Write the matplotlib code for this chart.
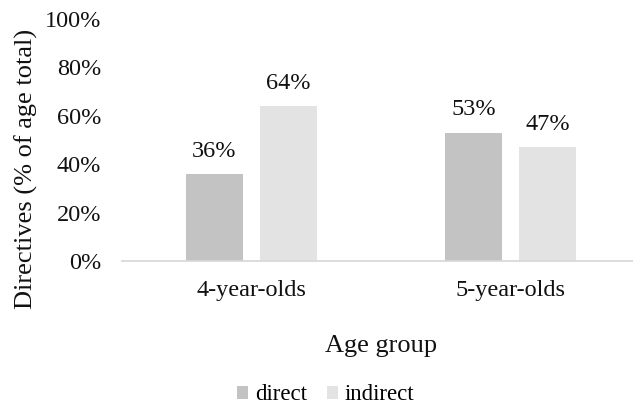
import matplotlib
matplotlib.use("Agg")
import matplotlib.pyplot as plt
import numpy as np

categories = ["4-year-olds", "5-year-olds"]
series_names = ["direct", "indirect"]
direct = [0.36, 0.53]
indirect = [0.64, 0.47]
yticks = [0, 0.2, 0.4, 0.6, 0.8, 1.0]
ytick_labels = ["0%", "20%", "40%", "60%", "80%", "100%"]

colors = ["#C3C3C3", "#E3E3E3"]
plt.rcParams['font.family'] = ['Liberation Serif', 'DejaVu Serif']
TXT = "#111111"

W, H = 633, 407
fig = plt.figure(figsize=(W / 100, H / 100), dpi=100)
ax_left, ax_right, ax_bottom, ax_top = 122, 640, 261, 19
ax = fig.add_axes([ax_left / W, 1 - ax_bottom / H, (ax_right - ax_left) / W, (ax_bottom - ax_top) / H])

x = np.arange(len(categories))
bw = 0.222
off = 0.143
b1 = ax.bar(x - off, direct, bw, color=colors[0], label=series_names[0])
b2 = ax.bar(x + off, indirect, bw, color=colors[1], label=series_names[1])

for bars, vals in ((b1, direct), (b2, indirect)):
    for r, v in zip(bars, vals):
        ax.annotate(f"{round(v*100)}%", (r.get_x() + r.get_width() / 2, v),
                    xytext=(0, 12.5), textcoords="offset points",
                    ha="center", va="baseline", fontsize=17.5, color=TXT)

ax.set_xlim(-0.5, 1.5)
ax.set_ylim(0, 1.0)
ax.set_yticks(yticks)
ax.set_yticklabels(ytick_labels, fontsize=17.5, color=TXT)
ax.set_xticks(x)
ax.set_xticklabels(categories, fontsize=17.5, color=TXT)
ax.tick_params(axis="y", length=0, pad=15)
ax.tick_params(axis="x", length=0, pad=14)
for s in ["top", "right", "left"]:
    ax.spines[s].set_visible(False)
ax.spines["bottom"].set_color("#D9D9D9")
ax.spines["bottom"].set_linewidth(1.3)

fig.text(381 / W, 1 - 352 / H, "Age group", fontsize=19, color=TXT,
         ha="center", va="baseline")
fig.text(33 / W, 1 - 169 / H, "Directives (% of age total)", fontsize=19, color=TXT,
         ha="center", va="baseline", rotation=90, rotation_mode="anchor")

fig.legend(handles=[b1, b2], labels=series_names, loc="center",
           bbox_to_anchor=(326 / W, 1 - 395 / H), ncol=2, frameon=False,
           fontsize=16.5, handlelength=0.48, handleheight=0.48, handletextpad=0.3,
           columnspacing=0.87)

fig.savefig("out.png", dpi=100)
